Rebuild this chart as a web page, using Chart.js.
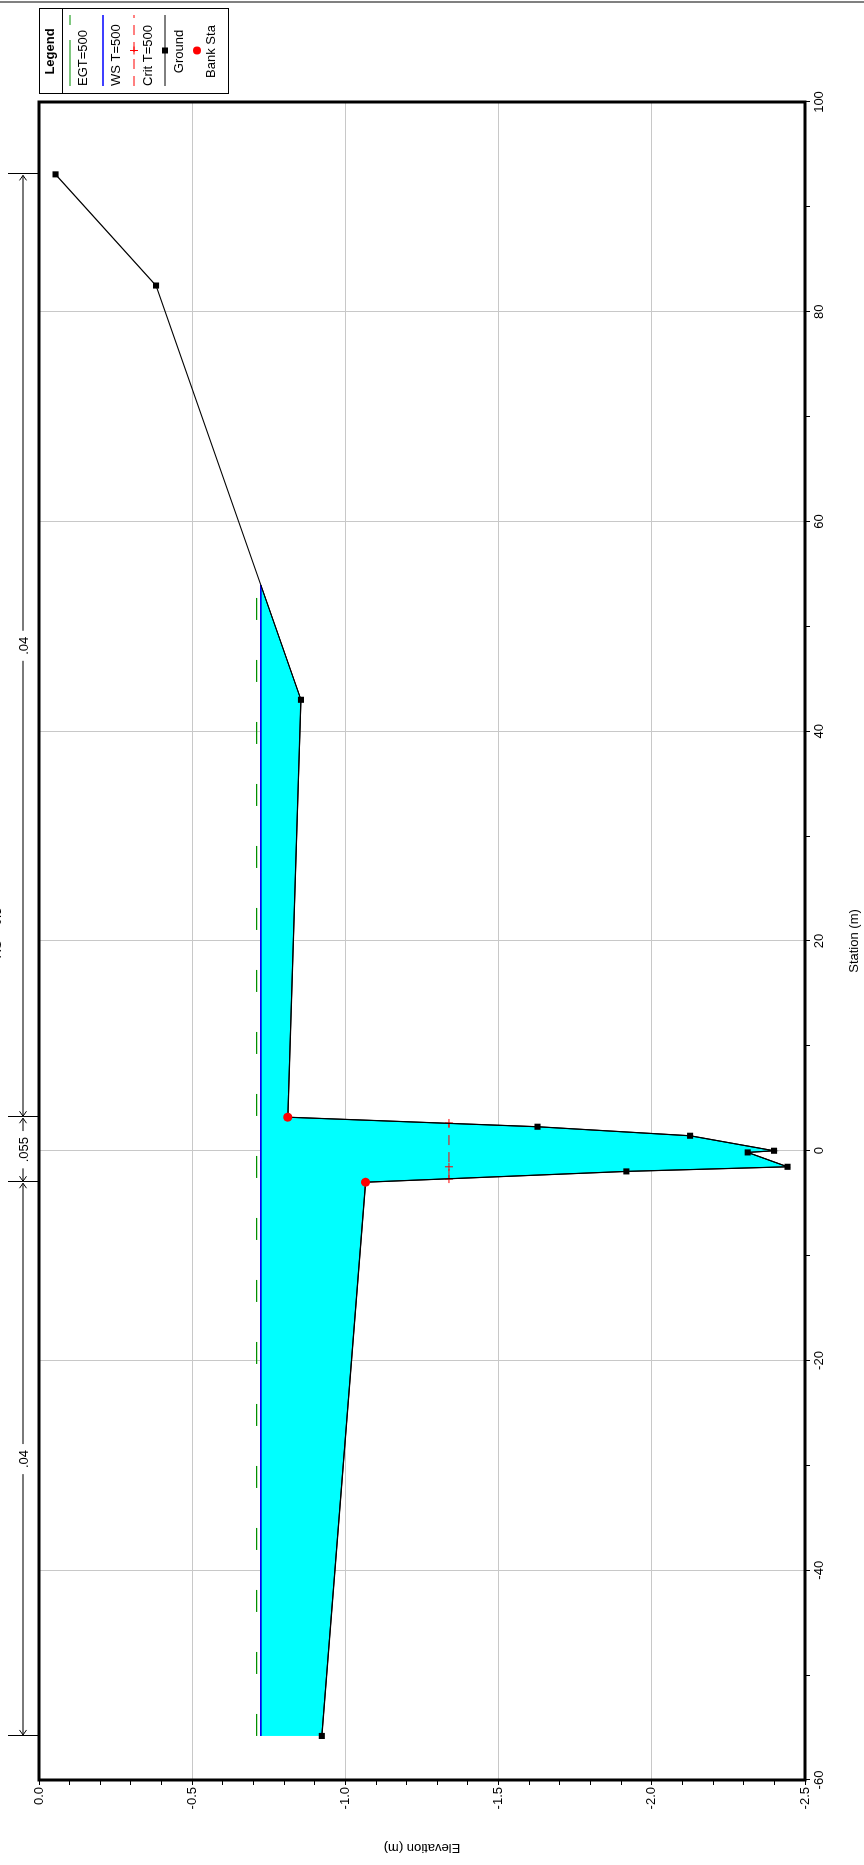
<!DOCTYPE html>
<html><head><meta charset="utf-8">
<script src="https://cdn.jsdelivr.net/npm/chart.js@4.4.1/dist/chart.umd.min.js"></script>
<style>
html,body{margin:0;padding:0;background:#fff;overflow:hidden;width:864px;height:1865px;}
#wrap{position:absolute;left:0;top:0;width:1865px;height:864px;transform-origin:0 0;transform:translate(0px,1865px) rotate(-90deg);background:#fff;}
canvas{display:block;}
</style></head><body>
<div id="wrap"><canvas id="chart" width="1865" height="864"></canvas></div>
<script>
// ---------------- data ----------------
const titleText = 'RS = 0.5';
const groundStation = [-55.8, -3.0, -1.97, -1.53, -0.16, 0.0, 1.43, 2.29, 3.2, 43.0, 82.5, 93.1];
const groundElev    = [-0.923, -1.066, -1.917, -2.443, -2.313, -2.399, -2.125, -1.627, -0.812, -0.855, -0.382, -0.054];
const bankStation = [-3.0, 3.2];
const wsElevation = -0.724;
const egtElevation = -0.710;
const critElevation = -1.338;
const critStation = [-2.7, -1.53, 2.65];
const nValueBreaks = [-55.8, -3.0, 3.2, 93.1];
const nValueLabels = ['.04', '.055', '.04'];
const legendLabels = ['EGT=500', 'WS T=500', 'Crit T=500', 'Ground', 'Bank Sta'];
const stationTickValues = [-60, -40, -20, 0, 20, 40, 60, 80, 100];
const stationTickLabels = ['-60', '-40', '-20', '0', '20', '40', '60', '80', '100'];
const elevationTickValues = [0, -0.5, -1.0, -1.5, -2.0, -2.5];
const elevationTickLabels = ['0.0', '-0.5', '-1.0', '-1.5', '-2.0', '-2.5'];
const stationMinorStep = 10;
const elevationMinorStep = 0.1;
const xTitle = 'Station (m)';
const yTitle = 'Elevation (m)';

// ---------------- helpers ----------------
const FONT = '"Liberation Sans", Arial, sans-serif';
function groundAt(s) {
  for (let i = 0; i < groundStation.length - 1; i++) {
    const a = groundStation[i], b = groundStation[i + 1];
    if (s >= a && s <= b) {
      const t = (s - a) / (b - a);
      return groundElev[i] + t * (groundElev[i + 1] - groundElev[i]);
    }
  }
  return groundElev[groundElev.length - 1];
}
function rightCrossing(level) {
  let res = groundStation[groundStation.length - 1];
  for (let i = groundStation.length - 2; i >= 0; i--) {
    const e1 = groundElev[i], e2 = groundElev[i + 1];
    if (e1 <= level && e2 >= level) {
      const t = (level - e1) / (e2 - e1);
      return groundStation[i] + t * (groundStation[i + 1] - groundStation[i]);
    }
  }
  return res;
}
function minorList(lo, hi, step) {
  const out = [];
  const n = Math.round((hi - lo) / step);
  for (let i = 0; i <= n; i++) out.push(+(lo + i * step).toFixed(6));
  return out;
}
function labelFor(values, labels, v) {
  const i = values.findIndex(t => Math.abs(t - v) < 1e-6);
  return i >= 0 ? labels[i] : '';
}

const sLeft = groundStation[0];
const wsRight = rightCrossing(wsElevation);
const egtRight = rightCrossing(egtElevation);

const ground = groundStation.map((s, i) => ({x: s, y: groundElev[i]}));
const waterPoly = [{x: sLeft, y: wsElevation}, {x: wsRight, y: wsElevation}];
for (let i = groundStation.length - 1; i >= 0; i--) {
  if (groundStation[i] < wsRight) waterPoly.push({x: groundStation[i], y: groundElev[i]});
}
const wsLine = [{x: sLeft, y: wsElevation}, {x: wsRight, y: wsElevation}];
const egtLine = [{x: sLeft, y: egtElevation}, {x: egtRight, y: egtElevation}];
const critLine = critStation.map(s => ({x: s, y: critElevation}));
const bankPts = bankStation.map(s => ({x: s, y: groundAt(s)}));

// ---------------- extras plugin ----------------
const extras = {
  id: 'extras',
  afterDraw(chart) {
    const ctx = chart.ctx, a = chart.chartArea;
    const xs = chart.scales.x;
    ctx.save();
    // frame
    ctx.strokeStyle = '#000'; ctx.lineWidth = 3; ctx.setLineDash([]);
    ctx.strokeRect(a.left, a.top, a.right - a.left, a.bottom - a.top);

    // n-value bars
    const yb = 23;
    ctx.lineWidth = 1; ctx.strokeStyle = '#000';
    nValueBreaks.forEach(s => {
      const px = Math.round(xs.getPixelForValue(s)) + 0.5;
      ctx.beginPath(); ctx.moveTo(px, 8); ctx.lineTo(px, a.top - 1); ctx.stroke();
    });
    ctx.font = '13px ' + FONT; ctx.textAlign = 'center'; ctx.textBaseline = 'middle';
    for (let i = 0; i < nValueLabels.length; i++) {
      const x1 = xs.getPixelForValue(nValueBreaks[i]);
      const x2 = xs.getPixelForValue(nValueBreaks[i + 1]);
      const mid = (x1 + x2) / 2;
      const w = ctx.measureText(nValueLabels[i]).width / 2 + 6;
      ctx.strokeStyle = '#7a7a7a'; ctx.lineWidth = 2;
      ctx.beginPath(); ctx.moveTo(x1 + 1, yb); ctx.lineTo(mid - w, yb);
      ctx.moveTo(mid + w, yb); ctx.lineTo(x2 - 1, yb); ctx.stroke();
      ctx.strokeStyle = '#000'; ctx.lineWidth = 1;
      ctx.beginPath();
      ctx.moveTo(x1 + 6, yb - 3.5); ctx.lineTo(x1 + 1, yb); ctx.lineTo(x1 + 6, yb + 3.5);
      ctx.moveTo(x2 - 6, yb - 3.5); ctx.lineTo(x2 - 1, yb); ctx.lineTo(x2 - 6, yb + 3.5);
      ctx.stroke();
      ctx.fillStyle = '#000';
      ctx.fillText(nValueLabels[i], mid, yb + 1);
    }

    // legend
    const L = 1771, R = 1856, T = 39, B = 228;
    ctx.strokeStyle = '#000'; ctx.lineWidth = 1;
    ctx.strokeRect(L + 0.5, T + 0.5, R - L, B - T);
    ctx.beginPath(); ctx.moveTo(L, 62.5); ctx.lineTo(R, 62.5); ctx.stroke();
    ctx.fillStyle = '#000';
    ctx.font = 'bold 13px ' + FONT; ctx.textAlign = 'center'; ctx.textBaseline = 'middle';
    ctx.fillText('Legend', (L + R) / 2, 50);
    const lx1 = 1779, lx2 = 1850, cx = (lx1 + lx2) / 2;
    const rows = [70, 103, 134, 165, 197];
    const textRows = [83, 116, 148, 179, 211];
    // EGT
    ctx.strokeStyle = '#009000'; ctx.lineWidth = 1.2; ctx.setLineDash([46, 15]);
    ctx.beginPath(); ctx.moveTo(lx1, rows[0]); ctx.lineTo(lx2, rows[0]); ctx.stroke();
    // WS
    ctx.setLineDash([]); ctx.strokeStyle = '#0000ff'; ctx.lineWidth = 1.5;
    ctx.beginPath(); ctx.moveTo(lx1, rows[1]); ctx.lineTo(lx2, rows[1]); ctx.stroke();
    // Crit
    ctx.strokeStyle = '#ff0000'; ctx.lineWidth = 1; ctx.setLineDash([10, 7]);
    ctx.beginPath(); ctx.moveTo(lx1, rows[2]); ctx.lineTo(lx2, rows[2]); ctx.stroke();
    ctx.setLineDash([]);
    ctx.beginPath(); ctx.moveTo(cx - 4, rows[2]); ctx.lineTo(cx + 4, rows[2]);
    ctx.moveTo(cx, rows[2] - 4); ctx.lineTo(cx, rows[2] + 4); ctx.stroke();
    // Ground
    ctx.strokeStyle = '#000'; ctx.lineWidth = 1;
    ctx.beginPath(); ctx.moveTo(lx1, rows[3]); ctx.lineTo(lx2, rows[3]); ctx.stroke();
    ctx.fillStyle = '#000'; ctx.fillRect(cx - 3, rows[3] - 3, 6, 6);
    // Bank
    ctx.fillStyle = '#ff0000';
    ctx.beginPath(); ctx.arc(cx, rows[4], 4, 0, Math.PI * 2); ctx.fill();
    // texts
    ctx.fillStyle = '#000'; ctx.font = '13px ' + FONT;
    legendLabels.forEach((t, i) => {
      if (i < 3) { ctx.textAlign = 'left'; ctx.fillText(t, lx1, textRows[i]); }
      else { ctx.textAlign = 'center'; ctx.fillText(t, (L + R) / 2, textRows[i]); }
    });

    // title (mostly cut off at edge)
    ctx.textAlign = 'center'; ctx.textBaseline = 'alphabetic'; ctx.font = '13px ' + FONT;
    ctx.fillText(titleText, 932, 1);

    // outer window line
    ctx.strokeStyle = '#808080'; ctx.lineWidth = 2;
    ctx.beginPath(); ctx.moveTo(1863, 0); ctx.lineTo(1863, 864); ctx.stroke();
    ctx.restore();
  }
};

// ---------------- chart ----------------
new Chart(document.getElementById('chart'), {
  type: 'scatter',
  data: {
    datasets: [
      {label: 'Bank Sta', data: bankPts, showLine: false, pointStyle: 'circle', pointRadius: 4.5,
       pointBackgroundColor: '#ff0000', pointBorderColor: '#ff0000', pointBorderWidth: 0, order: 0},
      {label: 'Ground', data: ground, showLine: true, borderColor: '#000', borderWidth: 1.2,
       pointStyle: 'rect', pointRadius: 4.3, pointBackgroundColor: '#000', pointBorderWidth: 0, order: 1},
      {label: 'Crit T=500', data: critLine, showLine: true, borderColor: '#ff0000', borderWidth: 1,
       borderDash: [10, 7], pointStyle: 'cross', pointRadius: 4, pointBorderColor: '#ff0000',
       pointBorderWidth: 1, order: 2},
      {label: 'WS T=500', data: wsLine, showLine: true, borderColor: '#0000ff', borderWidth: 1.5,
       pointRadius: 0, order: 3},
      {label: 'EGT=500', data: egtLine, showLine: true, borderColor: '#009000', borderWidth: 1.2,
       borderDash: [22, 40], pointRadius: 0, order: 4},
      {label: 'water', data: waterPoly, showLine: true, fill: 'shape', backgroundColor: '#00ffff',
       borderColor: '#000', borderWidth: 1, pointRadius: 0, order: 5}
    ]
  },
  options: {
    responsive: false, animation: false, devicePixelRatio: 1,
    layout: {padding: {left: 0, right: 102, top: 39, bottom: 0}},
    plugins: {legend: {display: false}, title: {display: false}, tooltip: {enabled: false}},
    scales: {
      x: {
        type: 'linear', position: 'bottom', min: -60, max: 100,
        afterBuildTicks: s => { s.ticks = minorList(-60, 100, stationMinorStep).map(v => ({value: v})); },
        afterFit: s => { s.height = 59; },
        ticks: {autoSkip: false, maxRotation: 0, minRotation: 0, color: '#000', padding: 2,
          font: {family: FONT, size: 13},
          callback: v => labelFor(stationTickValues, stationTickLabels, v)},
        grid: {color: c => (c.tick && labelFor(stationTickValues, stationTickLabels, c.tick.value)) ? '#c8c8c8' : 'rgba(0,0,0,0)',
          tickColor: '#000', tickLength: 5, lineWidth: 1},
        border: {display: false},
        title: {display: true, text: xTitle, color: '#000', font: {family: FONT, size: 13}, padding: {top: 0, bottom: 2}}
      },
      y: {
        type: 'linear', position: 'left', min: -2.5, max: 0,
        afterBuildTicks: s => { s.ticks = minorList(-2.5, 0, elevationMinorStep).map(v => ({value: v})); },
        afterFit: s => { s.width = 85; },
        ticks: {autoSkip: false, color: '#000', padding: 2, font: {family: FONT, size: 13},
          callback: v => labelFor(elevationTickValues, elevationTickLabels, v)},
        grid: {color: c => (c.tick && labelFor(elevationTickValues, elevationTickLabels, c.tick.value)) ? '#c8c8c8' : 'rgba(0,0,0,0)',
          tickColor: '#000', tickLength: 5, lineWidth: 1},
        border: {display: false},
        title: {display: true, text: yTitle, color: '#000', font: {family: FONT, size: 13}, padding: {top: 10, bottom: 0}}
      }
    }
  },
  plugins: [extras]
});
</script>
</body></html>
